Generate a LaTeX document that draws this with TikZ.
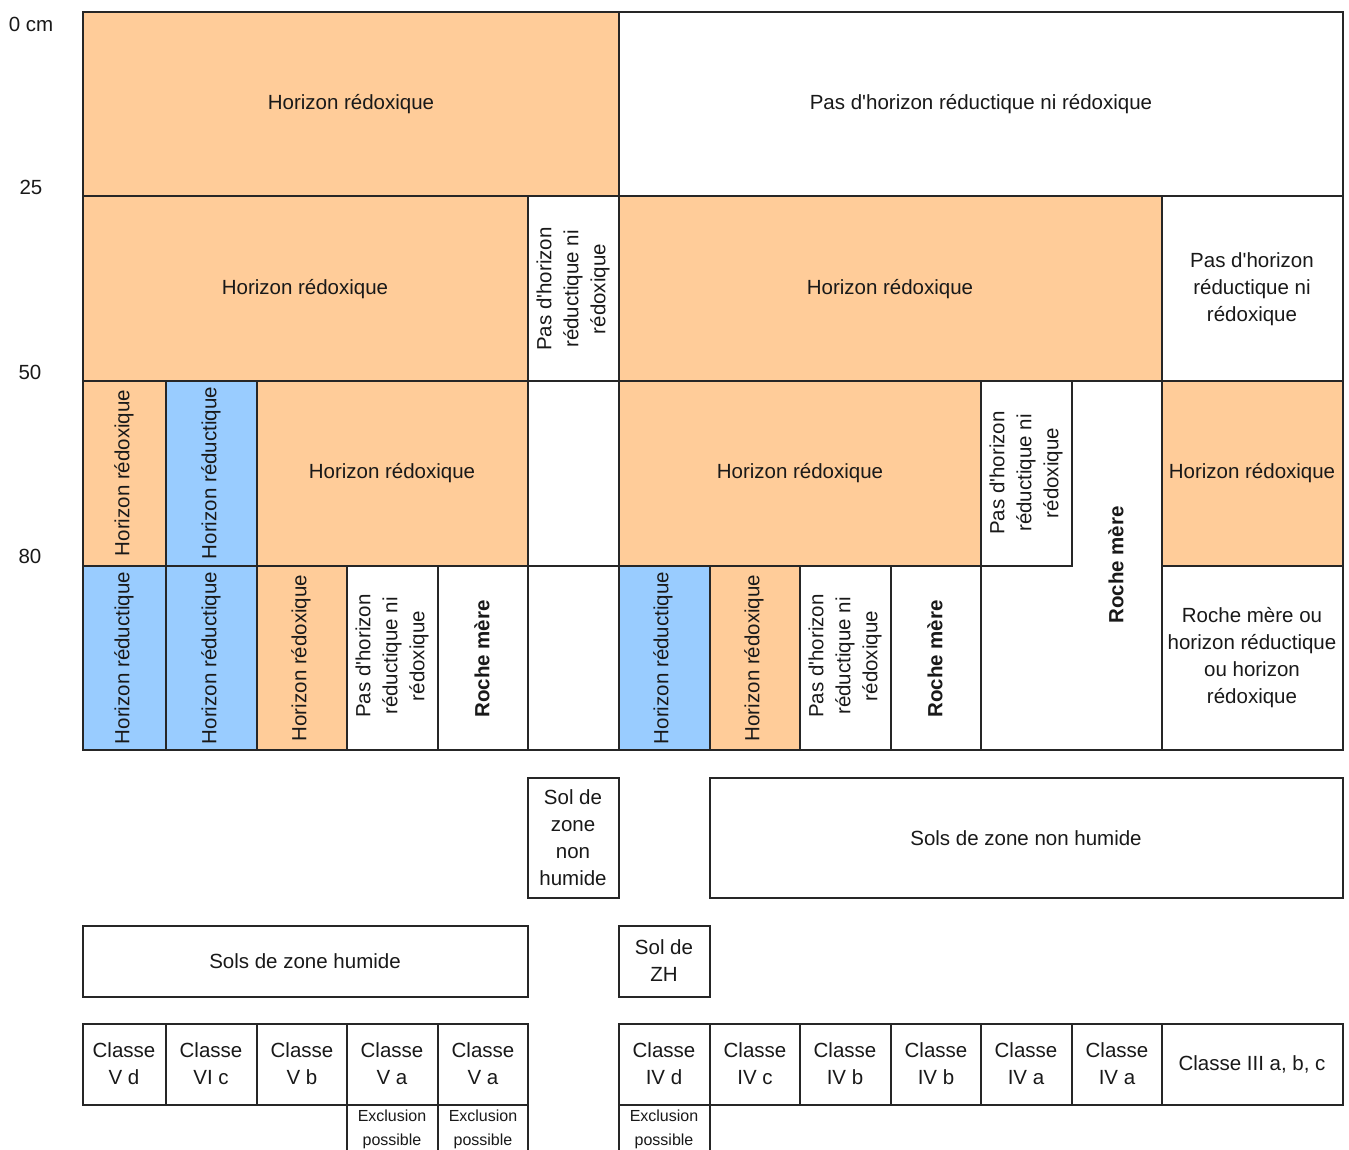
\documentclass[tikz,border=0pt]{standalone}
\usepackage{fontspec}
\setmainfont{Liberation Sans}[Ligatures=TeXOff]
\definecolor{redoxorange}{HTML}{FFCC99}
\definecolor{reducblue}{HTML}{99CCFF}
\tikzset{
  cell/.style={draw=black!85, line width=1.6pt},
  redox/.style={cell, fill=redoxorange},
  reduc/.style={cell, fill=reducblue},
  blank/.style={cell, fill=white},
  lbl/.style={font=\fontsize{20.5}{27}\selectfont, text=black!90, align=center, inner sep=0pt},
  vlbl/.style={lbl, rotate=90},
  rock/.style={vlbl, font=\fontsize{20.5}{27}\selectfont\bfseries},
  excl/.style={font=\fontsize{16}{24}\selectfont, text=black!90, align=center, inner sep=0pt},
  depth/.style={font=\fontsize{20.5}{24}\selectfont, text=black!90, inner sep=0pt}
}

\begin{document}
\begin{tikzpicture}[x=1pt,y=-1pt]
  \useasboundingbox (0,0) rectangle (1349,1149);
  \clip (0,0) rectangle (1349,1149);

  % depth marks
  \node[depth] (d0) at (31,24) {0 cm};
  \node[depth] (d25) at (31,187) {25};
  \node[depth] (d50) at (30,372) {50};
  \node[depth] (d80) at (30,556) {80};

  % 0 - 25 cm
  \draw[redox] (83,12) rectangle (619,196);
  \draw[blank] (619,12) rectangle (1343,196);
  \node[lbl] (hA) at (351,104) {Horizon rédoxique};
  \node[lbl] (pA) at (981,104) {Pas d'horizon réductique ni rédoxique};

  % 25 - 50 cm
  \draw[redox] (83,196) rectangle (528,381);
  \draw[blank] (528,196) rectangle (619,381);
  \draw[redox] (619,196) rectangle (1162,381);
  \draw[blank] (1162,196) rectangle (1343,381);
  \node[lbl] (hB1) at (305,289) {Horizon rédoxique};
  \node[vlbl] (pB1) at (573,289) {Pas d'horizon\\réductique ni\\rédoxique};
  \node[lbl] (hB2) at (890,289) {Horizon rédoxique};
  \node[lbl] (pB2) at (1252,289) {Pas d'horizon\\réductique ni\\rédoxique};

  % 50 - 80 cm
  \draw[redox] (83,381) rectangle (166,566);
  \draw[reduc] (166,381) rectangle (257,566);
  \draw[redox] (257,381) rectangle (528,566);
  \draw[blank] (528,381) rectangle (619,566);
  \draw[redox] (619,381) rectangle (981,566);
  \draw[blank] (981,381) rectangle (1162,750);
  \draw[blank] (981,381) rectangle (1072,566);
  \draw[redox] (1162,381) rectangle (1343,566);
  \node[vlbl] (hC1) at (124,473) {Horizon rédoxique};
  \node[vlbl] (rC1) at (211,473) {Horizon réductique};
  \node[lbl] (hC2) at (392,473) {Horizon rédoxique};
  \node[lbl] (hC3) at (800,473) {Horizon rédoxique};
  \node[vlbl] (pC1) at (1026,473) {Pas d'horizon\\réductique ni\\rédoxique};
  \node[rock] (mC1) at (1116,565) {Roche mère};
  \node[lbl] (hC4) at (1252,473) {Horizon rédoxique};

  % below 80 cm
  \draw[reduc] (83,566) rectangle (166,750);
  \draw[reduc] (166,566) rectangle (257,750);
  \draw[redox] (257,566) rectangle (347,750);
  \draw[blank] (347,566) rectangle (438,750);
  \draw[blank] (438,566) rectangle (528,750);
  \draw[blank] (528,566) rectangle (619,750);
  \draw[reduc] (619,566) rectangle (710,750);
  \draw[redox] (710,566) rectangle (800,750);
  \draw[blank] (800,566) rectangle (891,750);
  \draw[blank] (891,566) rectangle (981,750);
  \draw[blank] (1162,566) rectangle (1343,750);
  \node[vlbl] (rD1) at (124,658) {Horizon réductique};
  \node[vlbl] (rD2) at (211,658) {Horizon réductique};
  \node[vlbl] (hD1) at (301,658) {Horizon rédoxique};
  \node[vlbl] (pD1) at (392,656) {Pas d'horizon\\réductique ni\\rédoxique};
  \node[rock] (mD1) at (482,659) {Roche mère};
  \node[vlbl] (rD3) at (663,658) {Horizon réductique};
  \node[vlbl] (hD2) at (754,658) {Horizon rédoxique};
  \node[vlbl] (pD2) at (845,656) {Pas d'horizon\\réductique ni\\rédoxique};
  \node[rock] (mD2) at (935,659) {Roche mère};
  \node[lbl] (oD1) at (1252,658) {Roche mère ou\\horizon réductique\\ou horizon\\rédoxique};

  % soil types
  \draw[blank] (528,778) rectangle (619,898);
  \draw[blank] (710,778) rectangle (1343,898);
  \draw[blank] (83,926) rectangle (528,997);
  \draw[blank] (619,926) rectangle (710,997);
  \node[lbl] (sNH1) at (573,838) {Sol de\\zone\\non\\humide};
  \node[lbl] (sNH2) at (1026,838) {Sols de zone non humide};
  \node[lbl] (sH1) at (305,961) {Sols de zone humide};
  \node[lbl] (sH2) at (664,961) {Sol de\\ZH};

  % classes
  \draw[blank] (83,1024) rectangle (166,1105);
  \draw[blank] (166,1024) rectangle (257,1105);
  \draw[blank] (257,1024) rectangle (347,1105);
  \draw[blank] (347,1024) rectangle (438,1105);
  \draw[blank] (438,1024) rectangle (528,1105);
  \draw[blank] (619,1024) rectangle (710,1105);
  \draw[blank] (710,1024) rectangle (800,1105);
  \draw[blank] (800,1024) rectangle (891,1105);
  \draw[blank] (891,1024) rectangle (981,1105);
  \draw[blank] (981,1024) rectangle (1072,1105);
  \draw[blank] (1072,1024) rectangle (1162,1105);
  \draw[blank] (1162,1024) rectangle (1343,1105);
  \node[lbl] (c1) at (124,1064) {Classe\\V d};
  \node[lbl] (c2) at (211,1064) {Classe\\VI c};
  \node[lbl] (c3) at (302,1064) {Classe\\V b};
  \node[lbl] (c4) at (392,1064) {Classe\\V a};
  \node[lbl] (c5) at (483,1064) {Classe\\V a};
  \node[lbl] (c6) at (664,1064) {Classe\\IV d};
  \node[lbl] (c7) at (755,1064) {Classe\\IV c};
  \node[lbl] (c8) at (845,1064) {Classe\\IV b};
  \node[lbl] (c9) at (936,1064) {Classe\\IV b};
  \node[lbl] (c10) at (1026,1064) {Classe\\IV a};
  \node[lbl] (c11) at (1117,1064) {Classe\\IV a};
  \node[lbl] (c12) at (1252,1064) {Classe III a, b, c};

  % exclusions
  \draw[blank] (347,1105) rectangle (438,1175);
  \draw[blank] (438,1105) rectangle (528,1175);
  \draw[blank] (619,1105) rectangle (710,1175);
  \node[excl] (e1) at (392,1129) {Exclusion\\possible};
  \node[excl] (e2) at (483,1129) {Exclusion\\possible};
  \node[excl] (e3) at (664,1129) {Exclusion\\possible};
\end{tikzpicture}
\end{document}
